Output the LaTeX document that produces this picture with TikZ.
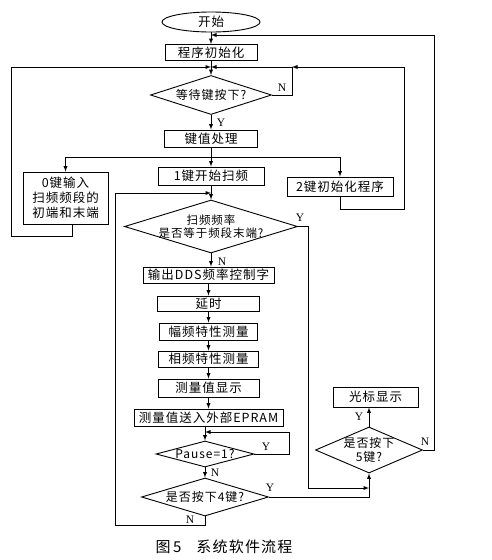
\documentclass[tikz,border=0pt]{standalone}
\usepackage{fontspec}
\setmainfont{Liberation Serif}
\newfontfamily\cjk[LetterSpace=8]{Noto Sans CJK SC}
\usetikzlibrary{positioning}
\usetikzlibrary{arrows}
\usetikzlibrary{shapes.geometric}

\tikzset{
  box/.style={draw, line width=0.9pt, inner sep=0pt, align=center,
    font=\cjk\fontsize{12.5}{15}\selectfont},
  dec/.style={draw, diamond, line width=0.9pt, inner sep=-2pt, align=center,
    font=\cjk\fontsize{12}{13.5}\selectfont},
  flow/.style={-latex, line width=0.9pt},
  wire/.style={line width=0.9pt},
  yn/.style={inner sep=0pt, font=\fontsize{11.5}{12}\selectfont},
}

\begin{document}
\begin{tikzpicture}[x=1pt,y=-1pt]
\useasboundingbox (0,0) rectangle (492,560);

% main column
\node[draw, ellipse, line width=0.9pt, minimum width=98pt, minimum height=20pt, inner sep=0pt,
  font=\cjk\fontsize{12.5}{13}\selectfont] (start) at (211,22) {开始};
\node[box, minimum width=92pt, minimum height=16pt] (init) at (211,52.5) {程序初始化};
\node[dec, minimum width=121pt, minimum height=39pt, aspect=3.1] (wait) at (211,95) {等待键按下?};
\node[box, minimum width=93pt, minimum height=17pt] (keyproc) at (211,138.5) {键值处理};
\node[box, minimum width=85pt, minimum height=52pt] (key0) at (65.5,198) {0键输入\\扫频频段的\\初端和末端};
\node[box, minimum width=106pt, minimum height=18pt] (key1) at (211,176) {1键开始扫频};
\node[box, minimum width=106pt, minimum height=19pt] (key2) at (340,186.5) {2键初始化程序};
\node[dec, minimum width=173pt, minimum height=53pt, aspect=3.26, inner sep=-4pt,
  font=\cjk\fontsize{11.5}{13.5}\selectfont] (scan) at (211,226.5) {扫频频率\\是否等于频段末端?};
\node[box, minimum width=131pt, minimum height=16pt] (dds) at (208.5,275) {输出DDS频率控制字};
\node[box, minimum width=102pt, minimum height=15pt] (delay) at (208.5,303.5) {延时};
\node[box, minimum width=98pt, minimum height=17pt] (amp) at (208.5,331.5) {幅频特性测量};
\node[box, minimum width=100pt, minimum height=16pt] (phase) at (208.5,359) {相频特性测量};
\node[box, minimum width=101pt, minimum height=18pt] (show) at (208.5,388) {测量值显示};
\node[box, minimum width=149pt, minimum height=17pt] (epram) at (208.5,417.5) {测量值送入外部EPRAM};
\node[dec, minimum width=98pt, minimum height=26pt, aspect=3.77] (pause) at (205,454) {Pause=1?};
\node[dec, minimum width=127pt, minimum height=38pt, aspect=3.34] (key4) at (205,497) {是否按下4键?};
\node[dec, minimum width=107pt, minimum height=46pt, aspect=2.33] (key5) at (369,450) {是否按下\\5键?};
\node[box, minimum width=85pt, minimum height=20pt] (cursor) at (375.5,397) {光标显示};

% junctions
\coordinate (j0) at (211,35);
\coordinate (j1) at (211,67);
\coordinate (jn) at (292,67);
\coordinate (jk) at (211,157);
\coordinate (j2) at (211,193);
\coordinate (j3) at (205,432);
\coordinate (j4) at (369,488);

\draw[flow] (start) -- (init);
\draw[flow] (init) -- (wait);
\draw[flow] (wait) -- (keyproc);
\draw[wire] (keyproc) -- (jk);
\draw[flow] (jk) -| (key0.north);
\draw[flow] (jk) -- (key1);
\draw[flow] (jk) -| (key2.north);
\draw[flow] (key1) -- (scan);
\draw[flow] (scan.south) -- (scan.south |- dds.north);
\draw[flow] (dds.south) -- (delay.north);
\draw[flow] (delay) -- (amp);
\draw[flow] (amp) -- (phase);
\draw[flow] (phase) -- (show);
\draw[flow] (show) -- (epram);
\draw[flow] (epram.south -| pause.north) -- (pause.north);
\draw[flow] (pause) -- (key4);
\draw[flow] (key5) -- (cursor.south -| key5.north);

% loops back
\draw[flow] (key5.east) -- ++(11,0) |- (j0);
\draw[flow] (wait.east) -| (jn) -- (j1);
\draw[flow] (key2.south) |- (404,209) |- (jn);
\draw[flow] (key0.south -| 72,0) |- (11,236) |- (j1);
\draw[flow] (key4.south) |- (115,525) |- (j2);
\draw[flow] (pause.east) -| (289,432) -- (j3);
\draw[flow] (scan.east) -- ++(10,0) |- (j4);
\draw[flow] (key4.east) -| (key5.south);

% Y / N
\node[yn] (waitn) at (282,88) {N};
\node[yn] (waity) at (221,123) {Y};
\node[yn] (scany) at (300,218) {Y};
\node[yn] (scann) at (222,262) {N};
\node[yn] (pausey) at (266,447) {Y};
\node[yn] (pausen) at (215,473) {N};
\node[yn] (key4y) at (270,488) {Y};
\node[yn] (key4n) at (190,520) {N};
\node[yn] (key5y) at (359,417) {Y};
\node[yn] (key5n) at (425,442) {N};

\node[font=\cjk\fontsize{15}{16}\selectfont] (caption) at (224,547) {图\,5\quad 系统软件流程};
\end{tikzpicture}
\end{document}
